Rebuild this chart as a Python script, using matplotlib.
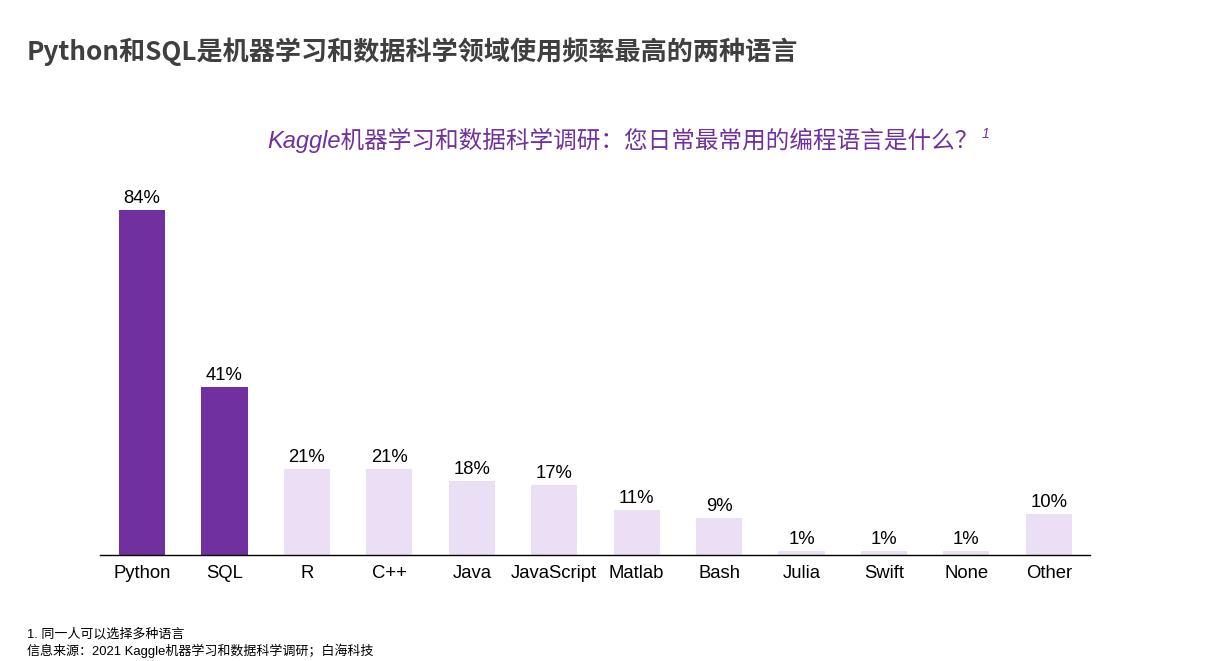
import matplotlib.pyplot as plt

plt.rcParams['font.family'] = ['Liberation Sans', 'Noto Sans CJK SC']

# Data
languages = ['Python', 'SQL', 'R', 'C++', 'Java', 'JavaScript', 'Matlab',
             'Bash', 'Julia', 'Swift', 'None', 'Other']
shares = [84, 41, 21, 21, 18, 17, 11, 9, 1, 1, 1, 10]
highlight = ['Python', 'SQL']

dark = '#7030A0'
light = '#EADFF4'
colors = [dark if lang in highlight else light for lang in languages]

fig = plt.figure(figsize=(12.21, 6.61), dpi=100)
ax = fig.add_axes([0.0819, 0.1604, 0.8108, 0.5522])

x = range(len(languages))
bars = ax.bar(x, shares, width=0.56, color=colors)
for b, v in zip(bars, shares):
    ax.text(b.get_x() + b.get_width() / 2, v + 0.7, f'{v}%',
            ha='center', va='bottom', fontsize=13.3, color='black')

ax.set_xlim(-0.51, 11.5)
ax.set_ylim(0, 88.9)
ax.set_xticks(list(x))
ax.set_xticklabels(languages, fontsize=13.3)
ax.tick_params(axis='x', length=0, pad=7)
ax.set_yticks([])
for s in ['top', 'right', 'left']:
    ax.spines[s].set_visible(False)
ax.spines['bottom'].set_color('black')
ax.spines['bottom'].set_linewidth(1)

# Titles
fig.text(0.022, 0.922, 'Python和SQL是机器学习和数据科学领域使用频率最高的两种语言',
         fontsize=18.8, fontweight='bold', color='#3F3F3F',
         family=['Noto Sans CJK SC', 'DejaVu Sans'], va='center')
sub = fig.text(0.219, 0.788, 'Kaggle机器学习和数据科学调研：您日常最常用的编程语言是什么？',
               fontsize=17, color=dark, style='italic', ha='left', va='center',
               family=['Liberation Sans', 'Noto Sans CJK SC'])
fig.canvas.draw()
bb = sub.get_window_extent().transformed(fig.transFigure.inverted())
fig.text(bb.x1 + 0.002, 0.797, '1', fontsize=10, color=dark, style='italic', va='center')

# Footnotes
fig.text(0.022, 0.041, '1. 同一人可以选择多种语言', fontsize=9.4, color='black', va='center')
fig.text(0.022, 0.016, '信息来源：2021 Kaggle机器学习和数据科学调研；白海科技',
         fontsize=9.4, color='black', va='center')

fig.savefig('out.png', dpi=100)
